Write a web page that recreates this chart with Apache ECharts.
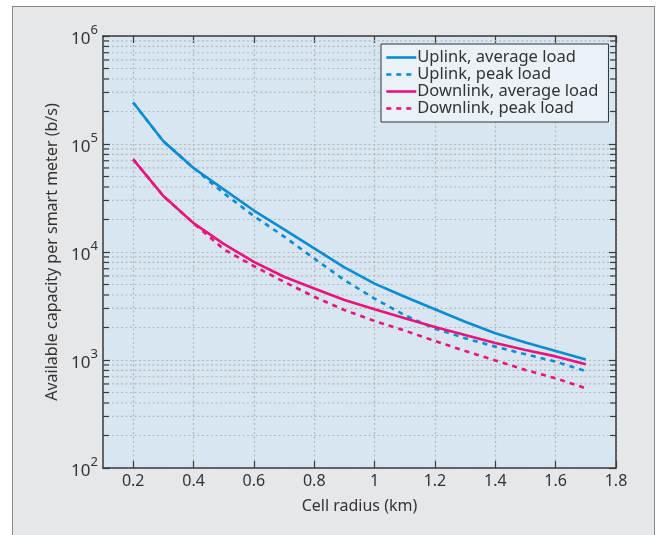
<!DOCTYPE html>
<html>
<head>
<meta charset="utf-8">
<script src="https://cdn.jsdelivr.net/npm/echarts@6/dist/echarts.min.js"></script>
<style>
  html, body { margin: 0; padding: 0; background: #fff; }
  .frame {
    position: absolute; left: 12px; top: 6px; width: 641px; height: 540px;
    background: #e6e7e9; border: 1.5px solid #8a8a8a;
  }
  #chart { position: absolute; left: 0; top: 0; width: 658px; height: 535px; }
</style>
</head>
<body>
<div class="frame"></div>
<div id="chart"></div>
<script>
// cell radius (km)
const radius = [0.2, 0.3, 0.4, 0.5, 0.6, 0.7, 0.8, 0.9, 1.0, 1.1, 1.2, 1.3, 1.4, 1.5, 1.6, 1.7]
// available capacity per smart meter (b/s)
const uplinkAvg = [242000, 106000, 60000, 38000, 24200, 16200, 10800, 7200, 5100, 3850, 2950, 2260, 1770, 1450, 1210, 1010]
const uplinkPeak = [242000, 106000, 60000, 35000, 21500, 13900, 8700, 5500, 3700, 2600, 1950, 1590, 1330, 1130, 965, 790]
const downlinkAvg = [72000, 33000, 18500, 11900, 8100, 5900, 4600, 3600, 2950, 2430, 2020, 1700, 1440, 1240, 1080, 912]
const downlinkPeak = [72000, 33000, 18500, 10600, 7400, 5300, 3850, 2900, 2300, 1870, 1500, 1210, 990, 808, 677, 547]
const seriesNames = ['Uplink, average load', 'Uplink, peak load', 'Downlink, average load', 'Downlink, peak load']
const xTicks = [0.2, 0.4, 0.6, 0.8, 1.0, 1.2, 1.4, 1.6, 1.8]
// minor log ticks 2..9 x 10^k
const minorTicks = []
for (let k = 2; k < 6; k++) {
  for (let m = 2; m <= 9; m++) minorTicks.push(m * Math.pow(10, k))
}

const blue = '#0a8cd2'
const pink = '#e8137b'
const font = 'Noto Sans'

function pairs (ys) {
  return radius.map((x, i) => [x, ys[i]])
}

const chart = echarts.init(document.getElementById('chart'))

const axisLine = { show: true, lineStyle: { color: '#3a3a3a', width: 1.5 } }
const tick = { show: true, inside: true, length: 7, lineStyle: { color: '#3a3a3a', width: 1.2 } }
const gridLine = { show: true, lineStyle: { color: '#b5b8bb', type: [2, 2.5], width: 1.2 } }

const option = {
  animation: false,
  grid: { left: 103, top: 36, right: 42, bottom: 67, show: true, backgroundColor: '#d7e6f0', borderWidth: 0 },
  legend: {
    orient: 'vertical',
    left: 381,
    top: 44,
    data: seriesNames,
    backgroundColor: '#eaf2f8',
    borderColor: '#333',
    borderWidth: 1,
    padding: [5, 10, 5, 4],
    itemGap: 0,
    itemWidth: 30,
    itemHeight: 17,
    itemStyle: { color: 'rgba(0,0,0,0)', borderWidth: 0, opacity: 0 },
    lineStyle: { width: 2.6 },
    textStyle: { fontFamily: font, fontSize: 16.5, color: '#333', lineHeight: 17, padding: [0, 0, 0, -4] }
  },
  xAxis: [{
    type: 'value',
    min: 0.1,
    max: 1.8,
    position: 'bottom',
    name: 'Cell radius (km)',
    nameLocation: 'middle',
    nameGap: 30,
    nameTextStyle: { fontFamily: font, fontSize: 16, color: '#333' },
    axisLine: axisLine,
    axisTick: Object.assign({}, tick, { customValues: xTicks }),
    axisLabel: {
      fontFamily: font, fontSize: 16, color: '#333', margin: 5,
      customValues: xTicks,
      formatter: v => String(Math.round(v * 10) / 10)
    },
    splitLine: gridLine
  }, {
    type: 'value',
    min: 0.1,
    max: 1.8,
    position: 'top',
    axisLine: axisLine,
    axisTick: Object.assign({}, tick, { customValues: xTicks }),
    axisLabel: { show: false },
    splitLine: { show: false }
  }],
  yAxis: [{
    type: 'log',
    logBase: 10,
    min: 100,
    max: 1000000,
    position: 'left',
    name: 'Available capacity per smart meter (b/s)',
    nameLocation: 'middle',
    nameGap: 35,
    nameTextStyle: { fontFamily: font, fontSize: 16, color: '#333' },
    axisLine: axisLine,
    axisTick: tick,
    axisLabel: {
      fontFamily: font, color: '#333', margin: 5,
      formatter: v => '{b|10}{s|' + Math.round(Math.log10(v)) + '}',
      rich: {
        b: { fontFamily: font, fontSize: 17, color: '#333', lineHeight: 24, verticalAlign: 'bottom' },
        s: { fontFamily: font, fontSize: 13, color: '#333', lineHeight: 24, verticalAlign: 'top' }
      }
    },
    splitLine: gridLine
  }, {
    type: 'log',
    logBase: 10,
    min: 100,
    max: 1000000,
    position: 'right',
    axisLine: axisLine,
    axisTick: tick,
    axisLabel: { show: false },
    splitLine: { show: false }
  }],
  series: [
    {
      // minor log grid lines and ticks
      type: 'custom',
      xAxisIndex: 0,
      yAxisIndex: 0,
      silent: true,
      z: 1,
      data: minorTicks.map(v => [0.1, v]),
      renderItem: function (params, api) {
        const v = api.value(1)
        const p0 = api.coord([0.1, v])
        const p1 = api.coord([1.8, v])
        const st = { stroke: '#3a3a3a', lineWidth: 1.2 }
        return {
          type: 'group',
          children: [
            { type: 'line', shape: { x1: p0[0], y1: p0[1], x2: p1[0], y2: p1[1] }, style: { stroke: '#b5b8bb', lineWidth: 1.2, lineDash: [2, 2.5] } },
            { type: 'line', shape: { x1: p0[0], y1: p0[1], x2: p0[0] + 6, y2: p0[1] }, style: st },
            { type: 'line', shape: { x1: p1[0] - 6, y1: p1[1], x2: p1[0], y2: p1[1] }, style: st }
          ]
        }
      }
    },
    {
      name: seriesNames[0], type: 'line', data: pairs(uplinkAvg), showSymbol: false, symbol: 'none', z: 5,
      lineStyle: { color: blue, width: 2.6 }, itemStyle: { color: blue }
    },
    {
      name: seriesNames[1], type: 'line', data: pairs(uplinkPeak), showSymbol: false, symbol: 'none', z: 4,
      lineStyle: { color: blue, width: 2.6, type: [5, 5] }, itemStyle: { color: blue }
    },
    {
      name: seriesNames[2], type: 'line', data: pairs(downlinkAvg), showSymbol: false, symbol: 'none', z: 5,
      lineStyle: { color: pink, width: 2.6 }, itemStyle: { color: pink }
    },
    {
      name: seriesNames[3], type: 'line', data: pairs(downlinkPeak), showSymbol: false, symbol: 'none', z: 4,
      lineStyle: { color: pink, width: 2.6, type: [5, 5] }, itemStyle: { color: pink }
    }
  ]
}
chart.setOption(option)
</script>
</body>
</html>
